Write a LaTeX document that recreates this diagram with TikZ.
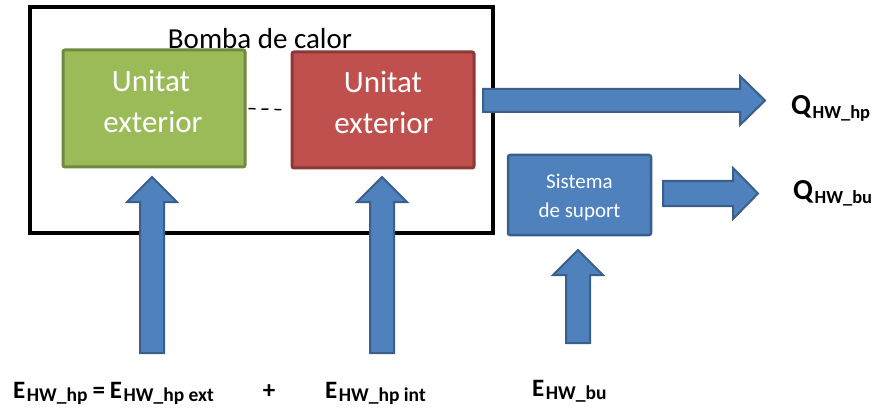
\documentclass[tikz,border=0pt]{standalone}
\usepackage{fontspec}
\setmainfont{Carlito}
\definecolor{bfill}{HTML}{4F81BD}
\definecolor{bline}{HTML}{3A5F8B}
\definecolor{gfill}{HTML}{9BBB59}
\definecolor{gline}{HTML}{71893F}
\definecolor{rfill}{HTML}{C0504D}
\definecolor{rline}{HTML}{8C3836}
\newcommand{\symlbl}[4]{{\bfseries\fontsize{#1}{#1}\selectfont #2}\hspace{1.5pt}\raisebox{-3.5pt}{\bfseries\fontsize{#3}{#3}\selectfont #4}}
\begin{document}
\begin{tikzpicture}[x=1pt,y=-1pt,
  unitbox/.style={draw, line width=3pt, rounded corners=2pt, minimum width=182pt, minimum height=116pt, inner sep=0pt},
  unittext/.style={anchor=base, text=white, font=\fontsize{31}{31}\selectfont, inner sep=0pt},
  suptext/.style={anchor=base, text=white, font=\fontsize{21}{21}\selectfont, inner sep=0pt},
  blk/.style={fill=bfill, draw=bline, line width=2pt, line join=miter},
  lbl/.style={anchor=base west, inner sep=0pt}]
\useasboundingbox (0,0) rectangle (873,409);

% outer heat pump box
\node[draw=black, line width=4pt, minimum width=463pt, minimum height=226pt, inner sep=0pt] (hp) at (261.5,120) {};
\node[anchor=base, inner sep=0pt, font=\fontsize{29}{29}\selectfont] (hptitle) at (260,49) {Bomba de calor};

% units
\node[unitbox, draw=gline, fill=gfill, minimum height=117pt] (green) at (154,108.5) {};
\node[unitbox, draw=rline, fill=rfill] (red) at (383,110) {};
\node[unittext] (g1) at (151,92) {Unitat};
\node[unittext] (g2) at (153,133) {exterior};
\node[unittext] (r1) at (383,93) {Unitat};
\node[unittext] (r2) at (384,134) {exterior};
\draw[line width=1.5pt, dash pattern=on 7pt off 6pt, shorten <=2pt, shorten >=6pt] (green.east) -- (red.west);

% support system
\node[draw=bline, fill=bfill, line width=2.5pt, rounded corners=2pt, minimum width=143pt, minimum height=80pt, inner sep=0pt] (sup) at (579.5,195) {};
\node[suptext] (s1) at (579.5,188) {Sistema};
\node[suptext] (s2) at (579.5,217) {de suport};

% block arrows
\coordinate (u1) at (152,353);
\draw[blk] (u1) ++(-12,0) -- ++(0,-151) -- ++(-13,0) -- ++(25,-25) -- ++(25,25) -- ++(-13,0) -- ++(0,151) -- cycle;
\coordinate (u2) at (382,353);
\draw[blk] (u2) ++(-12,0) -- ++(0,-151) -- ++(-13,0) -- ++(25,-25) -- ++(25,25) -- ++(-13,0) -- ++(0,151) -- cycle;
\coordinate (u3) at (578,343);
\draw[blk] (u3) ++(-12,0) -- ++(0,-68) -- ++(-13,0) -- ++(25,-25) -- ++(25,25) -- ++(-13,0) -- ++(0,68) -- cycle;
\coordinate (r1s) at (483,100.5);
\draw[blk] (r1s) ++(0,-11.5) -- ++(257,0) -- ++(0,-13) -- ++(25,24.5) -- ++(-25,24.5) -- ++(0,-13) -- ++(-257,0) -- cycle;
\coordinate (r2s) at (663,193.5);
\draw[blk] (r2s) ++(0,-12.5) -- ++(70,0) -- ++(0,-13) -- ++(25,25.5) -- ++(-25,25.5) -- ++(0,-13) -- ++(-70,0) -- cycle;

% labels
\node[lbl] (qhp) at (791,115) {\symlbl{29}{Q}{18.5}{HW\_hp}};
\node[lbl] (qbu) at (793,200) {\symlbl{29}{Q}{18.5}{HW\_bu}};
\node[lbl] (ehp) at (13,398) {\symlbl{25}{E}{19.5}{HW\_hp}\hspace{5pt}{\bfseries\fontsize{25}{25}\selectfont =}\hspace{5pt}\symlbl{25}{E}{19.5}{HW\_hp ext}};
\node[anchor=base, inner sep=0pt, font=\bfseries\fontsize{25}{25}\selectfont] (plus) at (269,398) {+};
\node[lbl] (eint) at (325,398) {\symlbl{25}{E}{19.5}{HW\_hp int}};
\node[lbl] (ebu) at (532,396) {\symlbl{25}{E}{19.5}{HW\_bu}};
\end{tikzpicture}
\end{document}
